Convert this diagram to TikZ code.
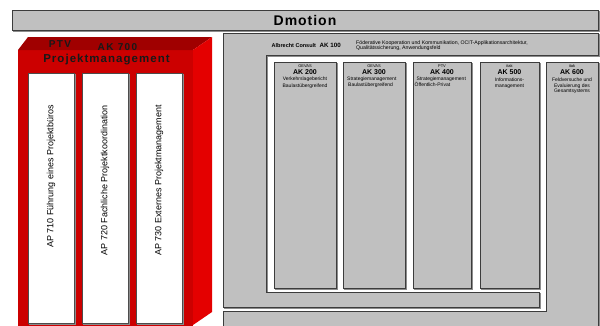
\documentclass[tikz,border=0pt]{standalone}
\usepackage{fontspec}
\setmainfont{Liberation Sans}
\definecolor{boxgrey}{RGB}{192,192,192}
\definecolor{edge}{RGB}{60,60,60}
\definecolor{redfront}{RGB}{204,0,0}
\definecolor{redtop}{RGB}{160,0,0}
\definecolor{redside}{RGB}{228,0,0}
\begin{document}
\begin{tikzpicture}[x=1pt,y=-1pt,
  shad/.style={preaction={draw=black!45, line width=0.8pt, transform canvas={xshift=0.9pt,yshift=-0.9pt}}},
  gbox/.style={fill=boxgrey, draw=edge, line width=0.7pt},
  wbox/.style={fill=white, draw=black!70, line width=0.9pt},
  redtxt/.style={anchor=base, inner sep=0, text=black!90, font=\fontsize{11.5}{13}\selectfont\bfseries\addfontfeature{LetterSpace=9}},
  toptxt/.style={anchor=base, inner sep=0, text=black!90, font=\fontsize{10}{12}\selectfont\bfseries\addfontfeature{LetterSpace=14}},
  aptxt/.style={rotate=90, anchor=east, inner sep=0, font=\fontsize{9}{10}\selectfont},
  lab/.style={anchor=base, inner sep=0, font=\fontsize{4}{5}\selectfont},
  akt/.style={anchor=base, inner sep=0, font=\fontsize{7}{8}\selectfont\bfseries},
  ln/.style={anchor=base, inner sep=0, font=\fontsize{5}{6}\selectfont},
  lnl/.style={anchor=base west, inner sep=0, font=\fontsize{5}{6}\selectfont},
  desc/.style={anchor=base west, inner sep=0, font=\fontsize{5.2}{6}\selectfont}]
\useasboundingbox (0,0) rectangle (600,325);
\clip (0,0) rectangle (600,325);
% Dmotion bar
\draw[gbox, shad] (12,10) rectangle (598,30);
\node[inner sep=0, font=\fontsize{14}{16}\selectfont\bfseries\addfontfeature{LetterSpace=7}] (dm) at (305,20.5) {Dmotion};
% red 3D box
\fill[redfront] (18,50) rectangle (193,330);
\fill[redtop] (18,50) -- (28,37) -- (212,37) -- (193,50) -- cycle;
\fill[redside] (193,50) -- (212,37) -- (212,312) -- (193,325) -- cycle;
\node[toptxt] (ptv) at (60,47.5) {PTV};
\node[toptxt] (ak700) at (117.5,50) {AK 700};
\node[redtxt] (pm) at (106.5,62.5) {Projektmanagement};
\draw[wbox, shad] (28,73) rectangle (74,323);
\draw[wbox, shad] (82,73) rectangle (128,323);
\draw[wbox, shad] (136,73) rectangle (182,323);
\node[aptxt] (ap710) at (51,105) {AP 710 Führung eines Projektbüros};
\node[aptxt] (ap720) at (105,105) {AP 720 Fachliche Projektkoordination};
\node[aptxt] (ap730) at (159,105) {AP 730 Externes Projektmanagement};
% AK 100 frame
\draw[gbox, shad] (223,33) -- (598,33) -- (598,55) -- (266,55) -- (266,292) -- (539,292) -- (539,307) -- (223,307) -- cycle;
\node[anchor=base west, inner sep=0, font=\fontsize{5.5}{6.5}\selectfont\bfseries] (ac) at (271.5,47) {Albrecht Consult};
\node[anchor=base west, inner sep=0, font=\fontsize{6.2}{7}\selectfont\bfseries] (ak100) at (319.5,47) {AK 100};
\node[desc] (d1) at (356,44) {Föderative Kooperation und Kommunikation, OCIT-Applikationsarchitektur,};
\node[desc] (d2) at (356,49.5) {Qualitätssicherung, Anwendungsfeld};
% AK 600 L-shape
\draw[gbox, shad] (546,62) -- (598,62) -- (598,335) -- (223,335) -- (223,311) -- (546,311) -- cycle;
% AK boxes
\draw[gbox, shad] (274,62) rectangle (336,288);
\draw[gbox, shad] (343,62) rectangle (405,288);
\draw[gbox, shad] (413,62) rectangle (471,288);
\draw[gbox, shad] (480,62) rectangle (539,288);
% AK 200
\node[lab] (l200) at (305,67.5) {GEVAS};
\node[akt] (a200) at (305,74) {AK 200};
\node[ln] (t200a) at (305,80.5) {Verkehrslagebericht};
\node[ln] (t200b) at (305,87) {Baulastübergreifend};
% AK 300
\node[lab] (l300) at (374,67.5) {GEVAS};
\node[akt] (a300) at (374,74) {AK 300};
\node[lnl] (t300a) at (347,80.5) {Strategiemanagement};
\node[lnl] (t300b) at (348,86.5) {Baulastübergreifend};
% AK 400
\node[lab] (l400) at (442,67.5) {PTV};
\node[akt] (a400) at (442,74) {AK 400};
\node[lnl] (t400a) at (416.5,80.5) {Strategiemanagement};
\node[lnl] (t400b) at (414.5,86.5) {Öffentlich-Privat};
% AK 500
\node[lab] (l500) at (509.5,67.5) {itak};
\node[akt] (a500) at (509.5,74.5) {AK 500};
\node[ln] (t500a) at (509.5,81.5) {Informations-};
\node[ln] (t500b) at (509.5,87) {management};
% AK 600
\node[lab] (l600) at (572,67.5) {itak};
\node[akt] (a600) at (572,74.5) {AK 600};
\node[ln] (t600a) at (572,81.5) {Feldversuche und};
\node[ln] (t600b) at (572,87) {Evaluierung des};
\node[ln] (t600c) at (572,92.5) {Gesamtsystems};
\end{tikzpicture}
\end{document}
